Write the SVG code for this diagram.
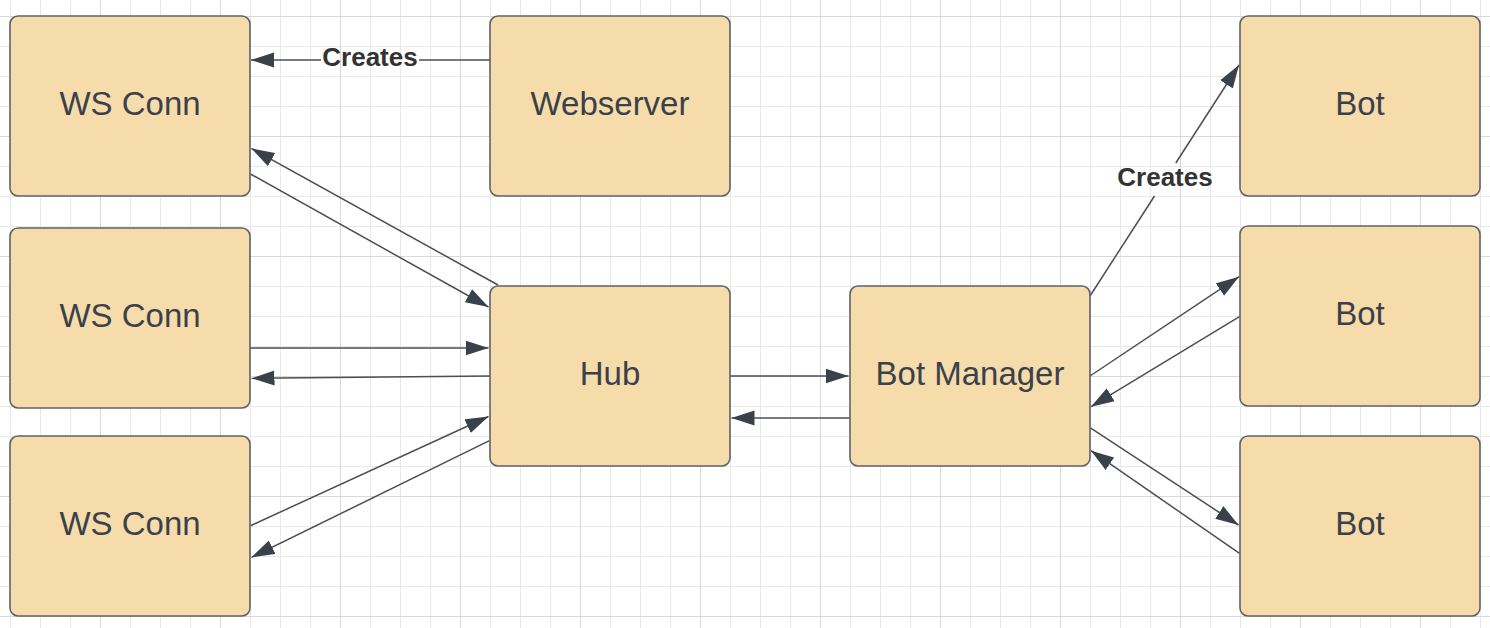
<svg xmlns="http://www.w3.org/2000/svg" width="1490" height="628" viewBox="0 0 1490 628">
<style>
.node rect{fill:#f7dcab;stroke:#5f6268;stroke-width:1.6}
.node text{font-family:"Liberation Sans",Arial,sans-serif;font-size:33px;fill:#3a414a;text-anchor:middle}
.conn line{stroke:#4a4f56;stroke-width:1.5;fill:none}
.lbl{font-family:"Liberation Sans",Arial,sans-serif;font-size:26px;font-weight:bold;fill:#333333;text-anchor:middle}
</style>
<defs>
<pattern id="minor" patternUnits="userSpaceOnUse" x="10" y="16" width="30" height="30">
<rect x="0" y="0" width="30" height="1" fill="#e9e9e9"/>
<rect x="0" y="0" width="1" height="30" fill="#e9e9e9"/>
</pattern>
<pattern id="major" patternUnits="userSpaceOnUse" x="100" y="16" width="120" height="120">
<rect x="0" y="0" width="120" height="1" fill="#d9d9d9"/>
<rect x="0" y="0" width="1" height="120" fill="#d9d9d9"/>
</pattern>
<marker id="ah" markerUnits="userSpaceOnUse" markerWidth="24" markerHeight="16" refX="23" refY="8" orient="auto">
<path d="M0,0.5 L23,8 L0,15.5 z" fill="#3a414a"/>
</marker>
</defs>
<rect width="1490" height="628" fill="#ffffff"/>
<rect width="1490" height="628" fill="url(#minor)"/>
<rect width="1490" height="628" fill="url(#major)"/>

<g id="connectors" class="conn">
<line x1="490" y1="60" x2="419" y2="60"/>
<line x1="321" y1="60" x2="251" y2="60" marker-end="url(#ah)"/>
<line x1="498" y1="285" x2="251.5" y2="148.5" marker-end="url(#ah)"/>
<line x1="250.5" y1="174" x2="488.5" y2="307" marker-end="url(#ah)"/>
<line x1="250" y1="348" x2="488.5" y2="348" marker-end="url(#ah)"/>
<line x1="490" y1="376" x2="251.5" y2="378.3" marker-end="url(#ah)"/>
<line x1="250.5" y1="525.7" x2="488.5" y2="416.5" marker-end="url(#ah)"/>
<line x1="489.5" y1="440.7" x2="251.5" y2="557.3" marker-end="url(#ah)"/>
<line x1="730" y1="376" x2="848.5" y2="376" marker-end="url(#ah)"/>
<line x1="850" y1="418" x2="731.5" y2="418" marker-end="url(#ah)"/>
<line x1="1090" y1="296" x2="1154.5" y2="196"/>
<line x1="1175.8" y1="163" x2="1239" y2="65" marker-end="url(#ah)"/>
<line x1="1090" y1="376" x2="1239" y2="276.7" marker-end="url(#ah)"/>
<line x1="1239.5" y1="316.7" x2="1091" y2="406.7" marker-end="url(#ah)"/>
<line x1="1090" y1="427.7" x2="1238.5" y2="525" marker-end="url(#ah)"/>
<line x1="1239.5" y1="553.3" x2="1091" y2="450.7" marker-end="url(#ah)"/>
<text class="lbl" x="370" y="66">Creates</text>
<text class="lbl" x="1165" y="186">Creates</text>
</g>

<g id="ws1" class="node"><rect x="10" y="16" width="240" height="180" rx="8"/><text x="130" y="115">WS Conn</text></g>
<g id="ws2" class="node"><rect x="10" y="228" width="240" height="180" rx="8"/><text x="130" y="327">WS Conn</text></g>
<g id="ws3" class="node"><rect x="10" y="436" width="240" height="180" rx="8"/><text x="130" y="535">WS Conn</text></g>
<g id="webserver" class="node"><rect x="490" y="16" width="240" height="180" rx="8"/><text x="610" y="115">Webserver</text></g>
<g id="hub" class="node"><rect x="490" y="286" width="240" height="180" rx="8"/><text x="610" y="385">Hub</text></g>
<g id="botmanager" class="node"><rect x="850" y="286" width="240" height="180" rx="8"/><text x="970" y="385">Bot Manager</text></g>
<g id="bot1" class="node"><rect x="1240" y="16" width="240" height="180" rx="8"/><text x="1360" y="115">Bot</text></g>
<g id="bot2" class="node"><rect x="1240" y="226" width="240" height="180" rx="8"/><text x="1360" y="325">Bot</text></g>
<g id="bot3" class="node"><rect x="1240" y="436" width="240" height="180" rx="8"/><text x="1360" y="535">Bot</text></g>
</svg>
